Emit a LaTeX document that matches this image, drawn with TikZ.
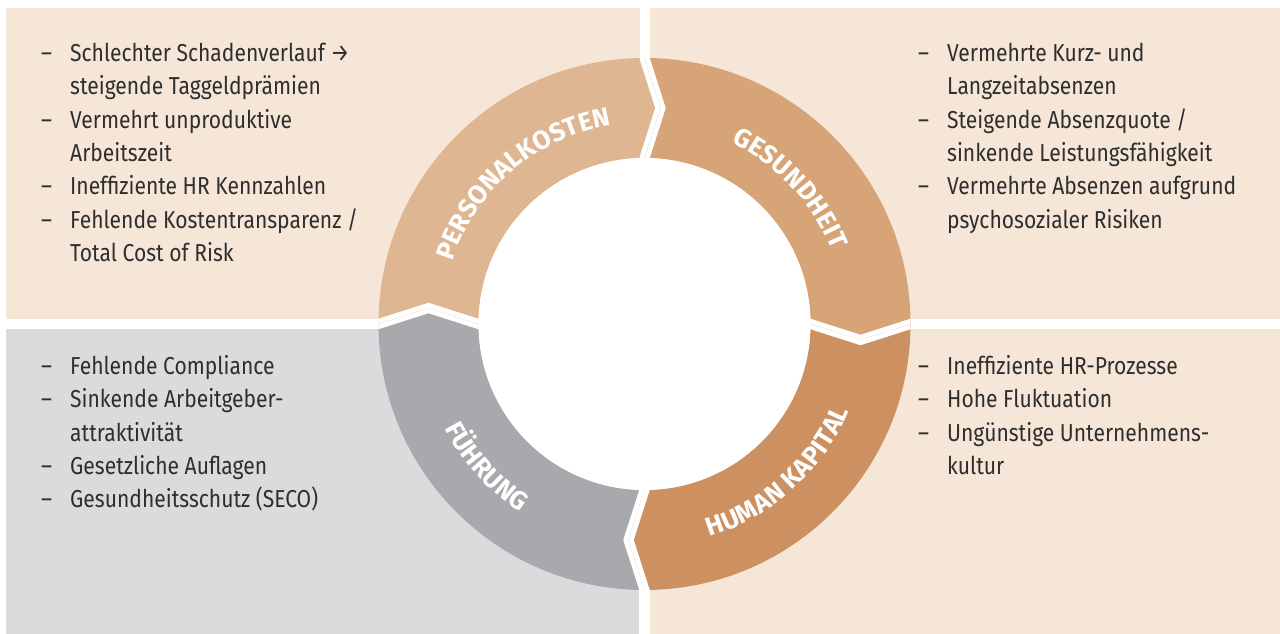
\documentclass[tikz,border=0pt]{standalone}
\usepackage{fontspec}
\setmainfont{Fira Sans}[FakeStretch=0.86]
\newfontfamily\labelfont{Fira Sans}
\usetikzlibrary{decorations.text}
\definecolor{qbeige}{HTML}{F5E6D7}
\definecolor{qgray}{HTML}{DADBDD}
\definecolor{cpers}{HTML}{DFB692}
\definecolor{cges}{HTML}{D6A476}
\definecolor{chum}{HTML}{CD9161}
\definecolor{cfuehr}{HTML}{A8A9AC}
\definecolor{textcol}{HTML}{2E2E2E}
\definecolor{dashcol}{HTML}{EBD6C2}
\newcommand\bd{\makebox[29pt][l]{–}}
\newcommand\bi{\hspace*{29pt}}
\newcommand\lblfont{\labelfont\bfseries\fontsize{26}{26}\selectfont}
\tikzset{
  txt/.style={anchor=base west, inner sep=0pt, font=\fontsize{24.5}{30}\selectfont, text=textcol},
  gapline/.style={white, line width=10pt, line join=miter},
  gapdash/.style={dashcol, line width=0.6pt, dash pattern=on 1.5pt off 1.5pt},
  seglabel/.style={decorate, decoration={text along path, text align=fit to path, text color=white}}
}
\begin{document}
\begin{tikzpicture}[x=1pt,y=1pt]
\useasboundingbox (0,0) rectangle (1280,634);
% quadrants
\fill[qbeige] (6,315) rectangle (640,626);
\fill[qbeige] (650,315) rectangle (1280,626);
\fill[qgray] (6,0) rectangle (639,305);
\fill[qbeige] (650,0) rectangle (1280,305);
\begin{scope}[shift={(644.5,310)}]
  \fill[cpers] (180:266) arc[start angle=180, end angle=90, radius=266] -- (16,216) -- (90:166) arc[start angle=90, end angle=180, radius=166] -- (-216,16) -- cycle;
  \fill[cges] (90:266) arc[start angle=90, end angle=0, radius=266] -- (216,-16) -- (0:166) arc[start angle=0, end angle=90, radius=166] -- (16,216) -- cycle;
  \fill[chum] (0:266) arc[start angle=0, end angle=-90, radius=266] -- (-16,-216) -- (-90:166) arc[start angle=-90, end angle=0, radius=166] -- (216,-16) -- cycle;
  \fill[cfuehr] (-90:266) arc[start angle=-90, end angle=-180, radius=266] -- (-216,16) -- (180:166) arc[start angle=180, end angle=270, radius=166] -- (-16,-216) -- cycle;
  \fill[white] (0,0) circle[radius=166];
  \begin{scope}
    \clip (0,0) circle[radius=266];
    \draw[gapline] (90:150) -- (90:166) -- (16,216) -- (90:266) -- (90:285);
    \draw[gapline] (0:150) -- (0:166) -- (216,-16) -- (0:266) -- (0:285);
    \draw[gapline] (-90:150) -- (-90:166) -- (-16,-216) -- (-90:266) -- (-90:285);
    \draw[gapline] (180:150) -- (180:166) -- (-216,16) -- (180:266) -- (180:285);
    \draw[gapdash] (90:166) -- (16,216) -- (90:266);
    \draw[gapdash] (0:166) -- (216,-16) -- (0:266);
    \draw[gapdash] (-90:166) -- (-16,-216) -- (-90:266);
    \draw[gapdash] (180:166) -- (-216,16) -- (180:266);
  \end{scope}
  \path[seglabel, decoration={text={|\lblfont|PERSONALKOSTEN}}]
    (162:202) arc[start angle=162, end angle=99.5, radius=202];
  \path[seglabel, decoration={text={|\lblfont|GESUNDHEIT}}]
    (64.5:201) arc[start angle=64.5, end angle=21.5, radius=201];
  \path[seglabel, decoration={text={|\lblfont|HUMAN KAPITAL}}]
    (-73:222.5) arc[start angle=-73, end angle=-23, radius=222.5];
  \path[seglabel, decoration={text={|\lblfont|FÜHRUNG}}]
    (207.5:225.5) arc[start angle=207.5, end angle=236.5, radius=225.5];
\end{scope}
% top left
\node[txt] (tl1) at (41,572.5) {\bd Schlechter Schadenverlauf →};
\node[txt] (tl2) at (41,539.1) {\bi steigende Taggeldprämien};
\node[txt] (tl3) at (41,505.8) {\bd Vermehrt unproduktive};
\node[txt] (tl4) at (41,472.4) {\bi Arbeitszeit};
\node[txt] (tl5) at (41,439.0) {\bd Ineffiziente HR Kennzahlen};
\node[txt] (tl6) at (41,405.7) {\bd Fehlende Kostentransparenz /};
\node[txt] (tl7) at (41,372.3) {\bi Total Cost of Risk};
% top right
\node[txt] (tr1) at (918,572.5) {\bd Vermehrte Kurz- und};
\node[txt] (tr2) at (918,539.1) {\bi Langzeitabsenzen};
\node[txt] (tr3) at (918,505.8) {\bd Steigende Absenzquote /};
\node[txt] (tr4) at (918,472.4) {\bi sinkende Leistungsfähigkeit};
\node[txt] (tr5) at (918,439.0) {\bd Vermehrte Absenzen aufgrund};
\node[txt] (tr6) at (918,405.7) {\bi psychosozialer Risiken};
% bottom left
\node[txt] (bl1) at (41,259.6) {\bd Fehlende Compliance};
\node[txt] (bl2) at (41,226.25) {\bd Sinkende Arbeitgeber-};
\node[txt] (bl3) at (41,192.9) {\bi attraktivität};
\node[txt] (bl4) at (41,159.55) {\bd Gesetzliche Auflagen};
\node[txt] (bl5) at (41,126.2) {\bd Gesundheitsschutz (SECO)};
% bottom right
\node[txt] (br1) at (918,259.6) {\bd Ineffiziente HR-Prozesse};
\node[txt] (br2) at (918,226.25) {\bd Hohe Fluktuation};
\node[txt] (br3) at (918,192.9) {\bd Ungünstige Unternehmens-};
\node[txt] (br4) at (918,159.55) {\bi kultur};
\end{tikzpicture}
\end{document}
